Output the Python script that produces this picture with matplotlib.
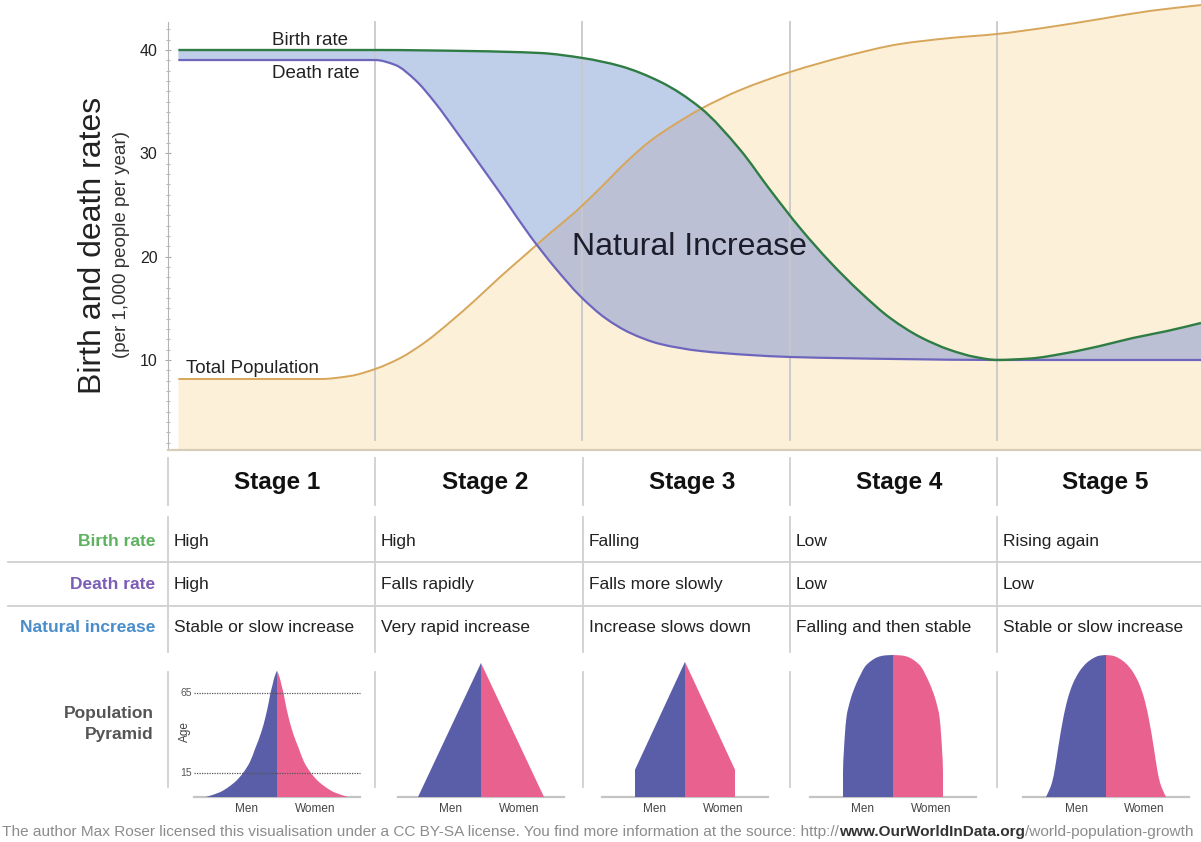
import matplotlib
matplotlib.use('Agg')
import matplotlib.pyplot as plt
import numpy as np
from matplotlib.path import Path
from matplotlib.patches import PathPatch
from matplotlib import font_manager as fm

plt.rcParams['font.family'] = ['Liberation Sans', 'DejaVu Sans']

# ---------------- data ----------------
stage_labels = ['Stage 1', 'Stage 2', 'Stage 3', 'Stage 4', 'Stage 5']
stage_bounds = [1, 2, 3, 4]
y_ticks = [10, 20, 30, 40]

birth_x = [0.05, 1.0, 1.458, 1.796, 2.002, 2.182, 2.378, 2.57, 2.762, 2.906, 3.05, 3.195,
           3.34, 3.485, 3.63, 3.774, 3.895, 4.001, 4.16, 4.338, 4.497, 4.657, 4.821, 4.985]
birth_y = [40.0, 40.0, 39.9, 39.71, 39.22, 38.45, 36.9, 34.39, 30.32, 26.45, 22.77, 19.48,
           16.58, 14.06, 12.22, 10.97, 10.29, 10.0, 10.14, 10.68, 11.35, 12.13, 12.8, 13.58]

death_x = [0.05, 1.0, 1.097, 1.193, 1.29, 1.386, 1.507, 1.627, 1.748, 1.869, 1.989, 2.11,
           2.231, 2.375, 2.57, 2.809, 3.002, 3.532, 4.001, 4.985]
death_y = [39.03, 39.03, 38.55, 37.1, 34.87, 32.26, 28.87, 25.48, 21.99, 18.9, 16.19, 14.06,
           12.61, 11.55, 10.87, 10.48, 10.29, 10.09, 10.0, 10.0]

pop_x = [0.05, 0.735, 0.879, 1.0, 1.121, 1.242, 1.362, 1.483, 1.603, 1.724, 1.845, 1.965,
         2.086, 2.206, 2.327, 2.448, 2.57, 2.762, 3.002, 3.291, 3.532, 3.774, 4.001, 4.256,
         4.497, 4.738, 4.985]
pop_y = [8.16, 8.16, 8.45, 9.13, 10.19, 11.74, 13.68, 15.81, 18.04, 20.17, 22.3, 24.32,
         26.64, 29.06, 31.19, 32.84, 34.29, 36.13, 37.87, 39.51, 40.58, 41.16, 41.55, 42.23,
         43.0, 43.78, 44.35]

row_labels = ['Birth rate', 'Death rate', 'Natural increase']
birth_desc = ['High', 'High', 'Falling', 'Low', 'Rising again']
death_desc = ['High', 'Falls rapidly', 'Falls more slowly', 'Low', 'Low']
natinc_desc = ['Stable or slow increase', 'Very rapid increase', 'Increase slows down',
               'Falling and then stable', 'Stable or slow increase']

# population pyramids: age vs half-width
pyr_ages = [
    [0, 3, 6, 10, 15, 22, 30, 40, 50, 60, 65, 70, 75, 79],
    [0, 83.75],
    [0, 17, 84.5],
    [0, 15, 30, 50, 62, 71, 77, 81.5, 85, 87.5, 88.5, 88.75],
    [0, 4, 9, 18, 30, 50, 62, 71, 79, 84, 87, 88.4, 88.75],
]
pyr_widths = [
    [71, 57, 49, 41, 34, 27, 22, 16, 11.5, 8, 6.5, 4.5, 2.5, 0],
    [63, 0],
    [50, 50, 0],
    [50, 50, 49, 46.5, 42, 36.6, 32, 28, 22, 15, 8, 0],
    [60, 57, 54, 51, 48, 42.5, 38, 33, 26, 19, 12, 6, 0],
]
pyr_smooth = [True, False, False, True, True]
pyr_age_marks = [15, 65]

# ---------------- style ----------------
W, H = 1201, 842
C_TAN = '#fcf0d8'
C_BLUE = '#bfcee9'
C_OVER = '#bcc0d5'
C_ORANGE = '#d7a65a'
C_GREEN = '#2f7d44'
C_PURPLE = '#6e66bd'
C_GRID = '#c9c9c9'
C_MEN = '#5a5ea8'
C_WOMEN = '#e9628f'


def bezier_chain(x, y, smooth=True):
    """Monotone cubic Bezier chain through the given points (vertices only)."""
    x = np.asarray(x, float)
    y = np.asarray(y, float)
    n = len(x)
    if not smooth or n < 3:
        return [(x[0], y[0])] + [p for k in range(1, n) for p in
                                 [(x[k - 1] + (x[k] - x[k - 1]) / 3, y[k - 1] + (y[k] - y[k - 1]) / 3),
                                  (x[k] - (x[k] - x[k - 1]) / 3, y[k] - (y[k] - y[k - 1]) / 3),
                                  (x[k], y[k])]]
    h = np.diff(x)
    dl = np.diff(y) / h
    d = np.zeros(n)
    d[0], d[-1] = dl[0], dl[-1]
    for k in range(1, n - 1):
        if dl[k - 1] * dl[k] <= 0:
            d[k] = 0
        else:
            w1 = 2 * h[k] + h[k - 1]
            w2 = h[k] + 2 * h[k - 1]
            d[k] = (w1 + w2) / (w1 / dl[k - 1] + w2 / dl[k])
    verts = [(x[0], y[0])]
    for k in range(n - 1):
        verts += [(x[k] + h[k] / 3, y[k] + d[k] * h[k] / 3),
                  (x[k + 1] - h[k] / 3, y[k + 1] - d[k + 1] * h[k] / 3),
                  (x[k + 1], y[k + 1])]
    return verts


def open_path(verts):
    return Path(verts, [Path.MOVETO] + [Path.CURVE4] * (len(verts) - 1))


fig = plt.figure(figsize=(W / 100, H / 100), dpi=100)
fig.patch.set_facecolor('white')


def fbox(x0, y0, x1, y1):
    return [x0 / W, 1 - y1 / H, (x1 - x0) / W, (y1 - y0) / H]


# ---------------- main chart ----------------
ax = fig.add_axes(fbox(168, 0, 1201, 450))
ax.set_xlim(0, 4.985)
ybot, ytop = 1.287, 44.84
ax.set_ylim(ybot, ytop)
ax.set_facecolor('none')

bv = bezier_chain(birth_x, birth_y)
dv = bezier_chain(death_x, death_y)
pv = bezier_chain(pop_x, pop_y)

pop_path = Path(pv + [(pop_x[-1], ybot), (pop_x[0], ybot), pv[0]],
                [Path.MOVETO] + [Path.CURVE4] * (len(pv) - 1) +
                [Path.LINETO, Path.LINETO, Path.CLOSEPOLY])
pop_patch = PathPatch(pop_path, facecolor=C_TAN, edgecolor='none', zorder=1)
ax.add_patch(pop_patch)

dvr = dv[::-1]
ni_path = Path(bv + dvr + [bv[0]],
               [Path.MOVETO] + [Path.CURVE4] * (len(bv) - 1) +
               [Path.LINETO] + [Path.CURVE4] * (len(dvr) - 1) + [Path.CLOSEPOLY])
ax.add_patch(PathPatch(ni_path, facecolor=C_BLUE, edgecolor='none', zorder=2))
over = PathPatch(ni_path, facecolor=C_OVER, edgecolor='none', zorder=3)
ax.add_patch(over)
over.set_clip_path(pop_patch)

for b in stage_bounds:
    ax.plot([b, b], [2.26, 42.71], color=C_GRID, lw=1.3, zorder=4)

ax.add_patch(PathPatch(open_path(pv), fill=False, edgecolor=C_ORANGE, lw=1.4, zorder=5))
ax.add_patch(PathPatch(open_path(dv), fill=False, edgecolor=C_PURPLE, lw=1.6, zorder=6))
ax.add_patch(PathPatch(open_path(bv), fill=False, edgecolor=C_GREEN, lw=1.7, zorder=7))

for s in ['top', 'right']:
    ax.spines[s].set_visible(False)
ax.spines['left'].set_bounds(ybot, 42.71)
ax.spines['left'].set_color('#b5b5b5')
ax.spines['bottom'].set_color('#d8cdb8')
ax.spines['bottom'].set_linewidth(1.6)
ax.set_xticks([])
ax.set_yticks(y_ticks)
ax.set_yticklabels([str(t) for t in y_ticks])
ax.set_yticks(np.arange(2, 43, 1), minor=True)
ax.tick_params(axis='y', which='major', length=5, direction='inout', color='#aaaaaa',
               labelsize=11.5, labelcolor='#222222', pad=5)
ax.tick_params(axis='y', which='minor', length=3, direction='inout', color='#bbbbbb', width=0.8)

# ---------------- overlay (pixel coordinates) ----------------
ov = fig.add_axes([0, 0, 1, 1], zorder=10)
ov.set_xlim(0, W)
ov.set_ylim(H, 0)
ov.axis('off')
ov.patch.set_alpha(0)

ov.text(93, 245, 'Birth and death rates', rotation=90, ha='center', va='center',
        fontsize=23, color='#222222')
ov.text(121, 245, '(per 1,000 people per year)', rotation=90, ha='center', va='center',
        fontsize=13.5, color='#333333')

ov.text(272, 45, 'Birth rate', ha='left', va='baseline', fontsize=13.5, color='#222222')
ov.text(272, 78, 'Death rate', ha='left', va='baseline', fontsize=13.5, color='#222222')
ov.text(186, 373, 'Total Population', ha='left', va='baseline', fontsize=13.5, color='#222222')
ov.text(572, 255, 'Natural Increase', ha='left', va='baseline', fontsize=23, color='#1c1c2a')

col_edges = [168, 375, 583, 790, 997, 1201]
gl = dict(color='#d0d0d0', lw=1.3)
for cx in col_edges[:-1]:
    ov.plot([cx, cx], [458, 505], **gl)
    ov.plot([cx, cx], [517, 652], **gl)
    ov.plot([cx, cx], [672, 787], **gl)
ov.plot([8, W], [562, 562], **gl)
ov.plot([8, W], [606, 606], **gl)

for i, lab in enumerate(stage_labels):
    cxm = (col_edges[i] + col_edges[i + 1]) / 2 + 6
    ov.text(cxm, 489, lab, ha='center', va='baseline', fontsize=17.5, fontweight='bold',
            color='#111111')

row_y = [546, 589, 632]
row_cols = ['#5cb25f', '#7b5db5', '#4a8dcb']
for lab, y, c in zip(row_labels, row_y, row_cols):
    ov.text(155, y, lab, ha='right', va='baseline', fontsize=12.5, fontweight='bold', color=c)
for r, desc in enumerate([birth_desc, death_desc, natinc_desc]):
    for i, d in enumerate(desc):
        ov.text(col_edges[i] + 6, row_y[r], d, ha='left', va='baseline', fontsize=12.5,
                color='#222222')

ov.text(154, 718, 'Population', ha='right', va='baseline', fontsize=12.5, fontweight='bold',
        color='#555555')
ov.text(154, 739, 'Pyramid', ha='right', va='baseline', fontsize=12.5, fontweight='bold',
        color='#555555')

# ---------------- pyramids ----------------
centers = [277, 481, 685, 893, 1106]
for i, cx in enumerate(centers):
    pa = fig.add_axes(fbox(cx - 90, 655, cx + 90, 797), zorder=5)
    pa.set_xlim(-90, 90)
    pa.set_ylim(0, 88.75)
    pa.axis('off')
    prof = bezier_chain(pyr_ages[i], pyr_widths[i], pyr_smooth[i])
    top = pyr_ages[i][-1]
    for sign, col in [(-1, C_MEN), (1, C_WOMEN)]:
        verts = [(0, 0)] + [(sign * w, a) for a, w in prof] + [(0, top), (0, 0)]
        codes = ([Path.MOVETO, Path.LINETO] + [Path.CURVE4] * (len(prof) - 1) +
                 [Path.LINETO, Path.CLOSEPOLY])
        pa.add_patch(PathPatch(Path(verts, codes), facecolor=col, edgecolor='none', zorder=2))
    pa.plot([-83, 83], [0, 0], color='#c4c4c4', lw=1.6, zorder=1, clip_on=False)
    if i == 0:
        for a in pyr_age_marks:
            pa.plot([-83, 83], [a, a], color='#555555', lw=0.9, ls=(0, (1, 1)), zorder=3)
            pa.text(-85, a, str(a), ha='right', va='center', fontsize=7.5, color='#555555')
        pa.text(-92, 41, 'Age', rotation=90, ha='center', va='center', fontsize=8.5,
                color='#444444', clip_on=False)
    ov.text(cx - 30, 812, 'Men', ha='center', va='baseline', fontsize=8.5, color='#444444')
    ov.text(cx + 38, 812, 'Women', ha='center', va='baseline', fontsize=8.5, color='#444444')

# ---------------- footer ----------------
names = {f.name for f in fm.fontManager.ttflist}
ffam = 'Liberation Sans Narrow' if 'Liberation Sans Narrow' in names else 'Liberation Sans'
parts = [("The author Max Roser licensed this visualisation under a CC BY-SA license. "
          "You find more information at the source: http://", 'normal', '#8c8c8c'),
         ("www.OurWorldInData.org", 'bold', '#333333'),
         ("/world-population-growth", 'normal', '#8c8c8c')]
renderer = fig.canvas.get_renderer()
fs0 = 10.0
total = 0
tmp = []
for s, wgt, c in parts:
    t = ov.text(0, 0, s, fontsize=fs0, fontweight=wgt, family=ffam)
    total += t.get_window_extent(renderer).width
    tmp.append(t)
for t in tmp:
    t.remove()
fs = fs0 * 1196 / total
x = 2
for s, wgt, c in parts:
    t = ov.text(x, 836, s, fontsize=fs, fontweight=wgt, family=ffam, color=c,
                ha='left', va='baseline')
    x += t.get_window_extent(renderer).width

fig.savefig('out.png', dpi=100, facecolor='white')
